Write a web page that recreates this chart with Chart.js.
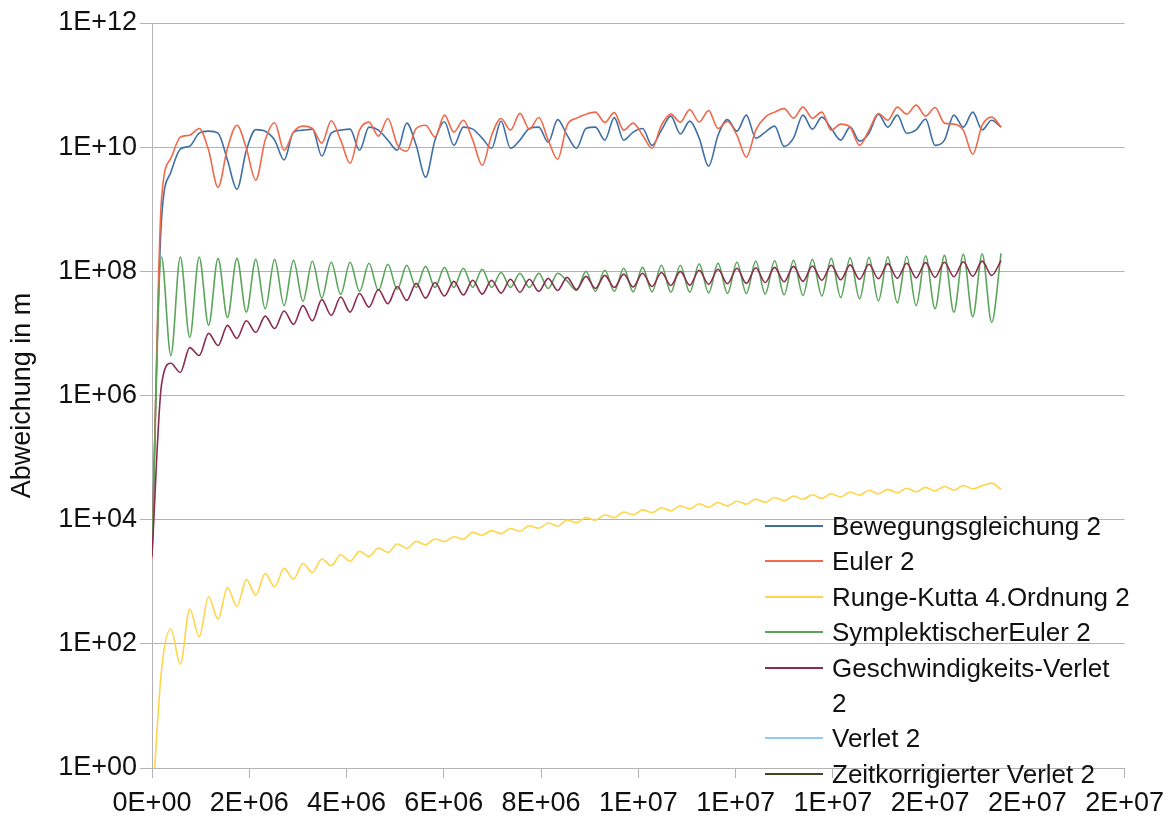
<!DOCTYPE html>
<html>
<head>
<meta charset="utf-8">
<script src="https://cdn.jsdelivr.net/npm/chart.js@4/dist/chart.umd.min.js"></script>
<style>
  html, body { margin: 0; padding: 0; background: #fff; }
  #wrap { position: relative; width: 1173px; height: 836px; }
  #legend {
    position: absolute; left: 765px; top: 509px;
    font-family: "Liberation Sans", Arial, sans-serif; font-size: 26px; color: #111;
  }
  .item { display: flex; align-items: flex-start; line-height: 35.4px; }
  .swatch { width: 58px; height: 2px; margin: 16px 9px 0 0; }
</style>
</head>
<body>
<div id="wrap">
  <canvas id="chart" width="1173" height="836"></canvas>
  <div id="legend"></div>
</div>
<script>
// simulated time grid (s), one sample every STEP seconds
const STEP = 1.94e5
const times = Array.from({ length: 91 }, (_, i) => i * STEP)

const seriesNames = [
  'Bewegungsgleichung 2', 'Euler 2', 'Runge-Kutta 4.Ordnung 2', 'SymplektischerEuler 2',
  'Geschwindigkeits-Verlet 2', 'Verlet 2', 'Zeitkorrigierter Verlet 2'
]
const seriesColors = ['#3f6fa6', '#f0694a', '#ffd54a', '#5aa55a', '#8b2c4e', '#8fcbf5', '#3a4a20']

const bewegung = [
  3.8e3, 6.6e8, 3.95e9, 9.3e9, 1.04e10, 1.68e10, 1.81e10, 1.68e10, 6.2e9, 2.1e9,
  8.9e9, 1.92e10, 1.81e10, 1.3e10, 6.2e9, 1.75e10, 1.88e10, 1.95e10, 7.2e9, 1.68e10,
  1.88e10, 1.95e10, 8.9e9, 2.1e10, 1.88e10, 1.3e10, 8.9e9, 2.44e10, 1.07e10, 3.28e9,
  1.3e10, 2.56e10, 1.07e10, 2.1e10, 1.95e10, 1.4e10, 9.6e9, 2.63e10, 9.6e9, 1.3e10,
  2.0e10, 2.1e10, 1.2e10, 2.78e10, 1.56e10, 9.6e9, 2.0e10, 2.1e10, 1.3e10, 2.99e10,
  1.3e10, 1.75e10, 2.0e10, 1.07e10, 1.88e10, 3.16e10, 1.63e10, 2.63e10, 1.4e10, 4.94e9,
  1.56e10, 2.78e10, 1.81e10, 3.28e10, 1.4e10, 1.75e10, 2.18e10, 1.03e10, 1.4e10, 3.28e10,
  1.95e10, 3.05e10, 2.0e10, 1.3e10, 2.1e10, 1.25e10, 1.68e10, 3.4e10, 2.1e10, 3.28e10,
  1.68e10, 1.9e10, 2.83e10, 1.07e10, 1.3e10, 3.28e10, 2.1e10, 3.67e10, 1.9e10, 2.72e10,
  2.1e10
]
const euler = [
  2.4e3, 1.4e9, 6.6e9, 1.45e10, 1.56e10, 2.0e10, 8.9e9, 2.26e9, 9.6e9, 2.26e10,
  9.6e9, 2.94e9, 1.3e10, 2.48e10, 8.9e9, 1.75e10, 2.18e10, 2.0e10, 1.16e10, 2.66e10,
  1.3e10, 5.5e9, 1.88e10, 2.53e10, 1.5e10, 2.9e10, 1.1e10, 8.6e9, 2.0e10, 2.26e10,
  1.45e10, 3.28e10, 1.75e10, 2.72e10, 1.3e10, 5.1e9, 1.56e10, 2.9e10, 1.88e10, 3.5e10,
  1.95e10, 3.0e10, 1.3e10, 6.4e9, 2.26e10, 2.94e10, 3.4e10, 3.67e10, 2.5e10, 3.6e10,
  1.88e10, 2.44e10, 1.56e10, 9.6e9, 2.26e10, 3.4e10, 2.53e10, 4.03e10, 2.55e10, 3.88e10,
  2.0e10, 2.6e10, 1.56e10, 6.9e9, 1.88e10, 3.05e10, 3.67e10, 4.18e10, 2.94e10, 4.42e10,
  2.94e10, 3.67e10, 1.88e10, 2.35e10, 2.1e10, 1.07e10, 1.88e10, 3.47e10, 2.72e10, 4.42e10,
  3.4e10, 4.76e10, 3.16e10, 4.35e10, 2.44e10, 2.35e10, 1.88e10, 7.7e9, 2.26e10, 3.05e10,
  2.1e10
]
const rungeKutta = [
  0.2, 36.7, 173, 47, 363, 130, 573, 250, 810, 400,
  1080, 610, 1360, 830, 1640, 1100, 1970, 1410, 2320, 1810,
  2720, 2130, 3080, 2560, 3500, 2970, 4060, 3440, 4470, 3950,
  4890, 4420, 5320, 4850, 6300, 5600, 6650, 5950, 7200, 6500,
  8000, 7300, 8850, 7900, 9900, 8950, 1.08e4, 9800, 1.19e4, 1.08e4,
  1.33e4, 1.2e4, 1.44e4, 1.3e4, 1.56e4, 1.39e4, 1.67e4, 1.49e4, 1.8e4, 1.59e4,
  1.89e4, 1.67e4, 1.98e4, 1.78e4, 2.14e4, 1.91e4, 2.28e4, 2.02e4, 2.41e4, 2.13e4,
  2.52e4, 2.2e4, 2.61e4, 2.32e4, 2.79e4, 2.48e4, 2.97e4, 2.61e4, 3.08e4, 2.71e4,
  3.2e4, 2.81e4, 3.31e4, 2.9e4, 3.43e4, 3.0e4, 3.55e4, 3.14e4, 3.53e4, 3.88e4,
  3.05e4
]
const symplEuler = [
  2.8e3, 1.7e8, 4.4e6, 1.7e8, 8.6e6, 1.7e8, 1.35e7, 1.62e8, 1.8e7, 1.62e8,
  2.2e7, 1.56e8, 2.5e7, 1.56e8, 2.8e7, 1.5e8, 3.3e7, 1.45e8, 3.7e7, 1.4e8,
  4.26e7, 1.4e8, 4.75e7, 1.35e8, 4.9e7, 1.3e8, 5.1e7, 1.25e8, 5.5e7, 1.2e8,
  5.5e7, 1.16e8, 5.5e7, 1.12e8, 5.5e7, 1.08e8, 5.5e7, 9.6e7, 5.5e7, 9.3e7,
  5.5e7, 9.3e7, 5.3e7, 9.3e7, 7.0e7, 4.9e7, 1.0e8, 4.75e7, 1.04e8, 4.75e7,
  1.12e8, 4.67e7, 1.16e8, 4.67e7, 1.25e8, 4.6e7, 1.25e8, 4.6e7, 1.32e8, 4.5e7,
  1.35e8, 4.4e7, 1.4e8, 4.4e7, 1.45e8, 4.3e7, 1.48e8, 4.2e7, 1.5e8, 4.1e7,
  1.56e8, 4.0e7, 1.62e8, 3.8e7, 1.65e8, 3.6e7, 1.68e8, 3.35e7, 1.71e8, 3.1e7,
  1.75e8, 2.8e7, 1.78e8, 2.5e7, 1.81e8, 2.2e7, 1.88e8, 1.85e7, 1.91e8, 1.5e7,
  1.95e8
]
const geschwVerlet = [
  2.6e3, 1.45e6, 3.3e6, 2.35e6, 5.9e6, 4.4e6, 1.0e7, 6.4e6, 1.35e7, 8.3e6,
  1.6e7, 1.04e7, 1.9e7, 1.2e7, 2.3e7, 1.4e7, 2.8e7, 1.6e7, 3.5e7, 1.95e7,
  3.85e7, 2.2e7, 4.4e7, 2.65e7, 5.1e7, 3.0e7, 5.7e7, 3.4e7, 6.4e7, 3.7e7,
  6.6e7, 4.0e7, 6.9e7, 4.15e7, 7.2e7, 4.3e7, 7.2e7, 4.45e7, 7.45e7, 4.6e7,
  7.45e7, 4.75e7, 7.7e7, 4.9e7, 8.0e7, 5.1e7, 8.3e7, 5.3e7, 8.6e7, 5.5e7,
  9.0e7, 5.6e7, 9.3e7, 5.7e7, 9.6e7, 5.9e7, 1.0e8, 6.0e7, 1.04e8, 6.2e7,
  1.08e8, 6.3e7, 1.12e8, 6.4e7, 1.14e8, 6.6e7, 1.16e8, 6.8e7, 1.2e8, 6.9e7,
  1.22e8, 7.2e7, 1.25e8, 7.3e7, 1.27e8, 7.45e7, 1.3e8, 7.6e7, 1.33e8, 7.7e7,
  1.35e8, 7.85e7, 1.38e8, 8.0e7, 1.4e8, 8.2e7, 1.43e8, 8.3e7, 1.46e8, 8.6e7,
  1.5e8
]
// these two series do not show in the picture
const verlet = []
const zeitVerlet = []

const yTicks = [1, 1e2, 1e4, 1e6, 1e8, 1e10, 1e12]

// 2000000 -> "2E+06"
const fmtSci = (v) => {
  const [m, e] = Number(v).toExponential(0).split('e')
  const exp = parseInt(e, 10)
  return m + 'E' + (exp < 0 ? '-' : '+') + String(Math.abs(exp)).padStart(2, '0')
}

const allSeries = [bewegung, euler, rungeKutta, symplEuler, geschwVerlet, verlet, zeitVerlet]
const font = { family: '"Liberation Sans", Arial, sans-serif', size: 27 }

const datasets = allSeries.map((vals, i) => ({
  label: seriesNames[i],
  data: vals.map((v, k) => ({ x: times[k], y: v })),
  borderColor: seriesColors[i],
  backgroundColor: seriesColors[i],
  borderWidth: 1.6,
  pointRadius: 0,
  fill: false,
  cubicInterpolationMode: 'monotone',
  // later series on top, like the original
  order: -i
}))

new Chart(document.getElementById('chart'), {
  type: 'line',
  data: { datasets },
  options: {
    responsive: false,
    animation: false,
    layout: { padding: { top: 23, right: 46, left: 0, bottom: 0 } },
    plugins: { legend: { display: false }, tooltip: { enabled: false } },
    scales: {
      x: {
        type: 'linear',
        min: 0,
        max: 2e7,
        ticks: { stepSize: 2e6, callback: fmtSci, font, color: '#111', padding: 9, maxRotation: 0, autoSkip: false },
        grid: { drawOnChartArea: false, tickLength: 10, color: '#b3b3b3' },
        border: { color: '#b3b3b3' },
        afterFit: (s) => { s.height = 68 }
      },
      y: {
        type: 'logarithmic',
        min: 1,
        max: 1e12,
        afterBuildTicks: (s) => { s.ticks = yTicks.map(value => ({ value })) },
        ticks: { callback: fmtSci, font, color: '#111', padding: 3 },
        grid: { color: '#b3b3b3', tickLength: 12 },
        border: { color: '#b3b3b3' },
        title: { display: true, text: 'Abweichung in m', font, color: '#111', padding: { top: 6, bottom: 0 } },
        afterFit: (s) => { s.width = 152 }
      }
    }
  }
})

// legend drawn over the plot, bottom right
const legend = document.getElementById('legend')
seriesNames.forEach((name, i) => {
  const row = document.createElement('div')
  row.className = 'item'
  const sw = document.createElement('div')
  sw.className = 'swatch'
  sw.style.backgroundColor = seriesColors[i]
  const txt = document.createElement('div')
  txt.innerHTML = name === 'Geschwindigkeits-Verlet 2' ? 'Geschwindigkeits-Verlet<br>2' : name
  row.appendChild(sw)
  row.appendChild(txt)
  legend.appendChild(row)
})
</script>
</body>
</html>
